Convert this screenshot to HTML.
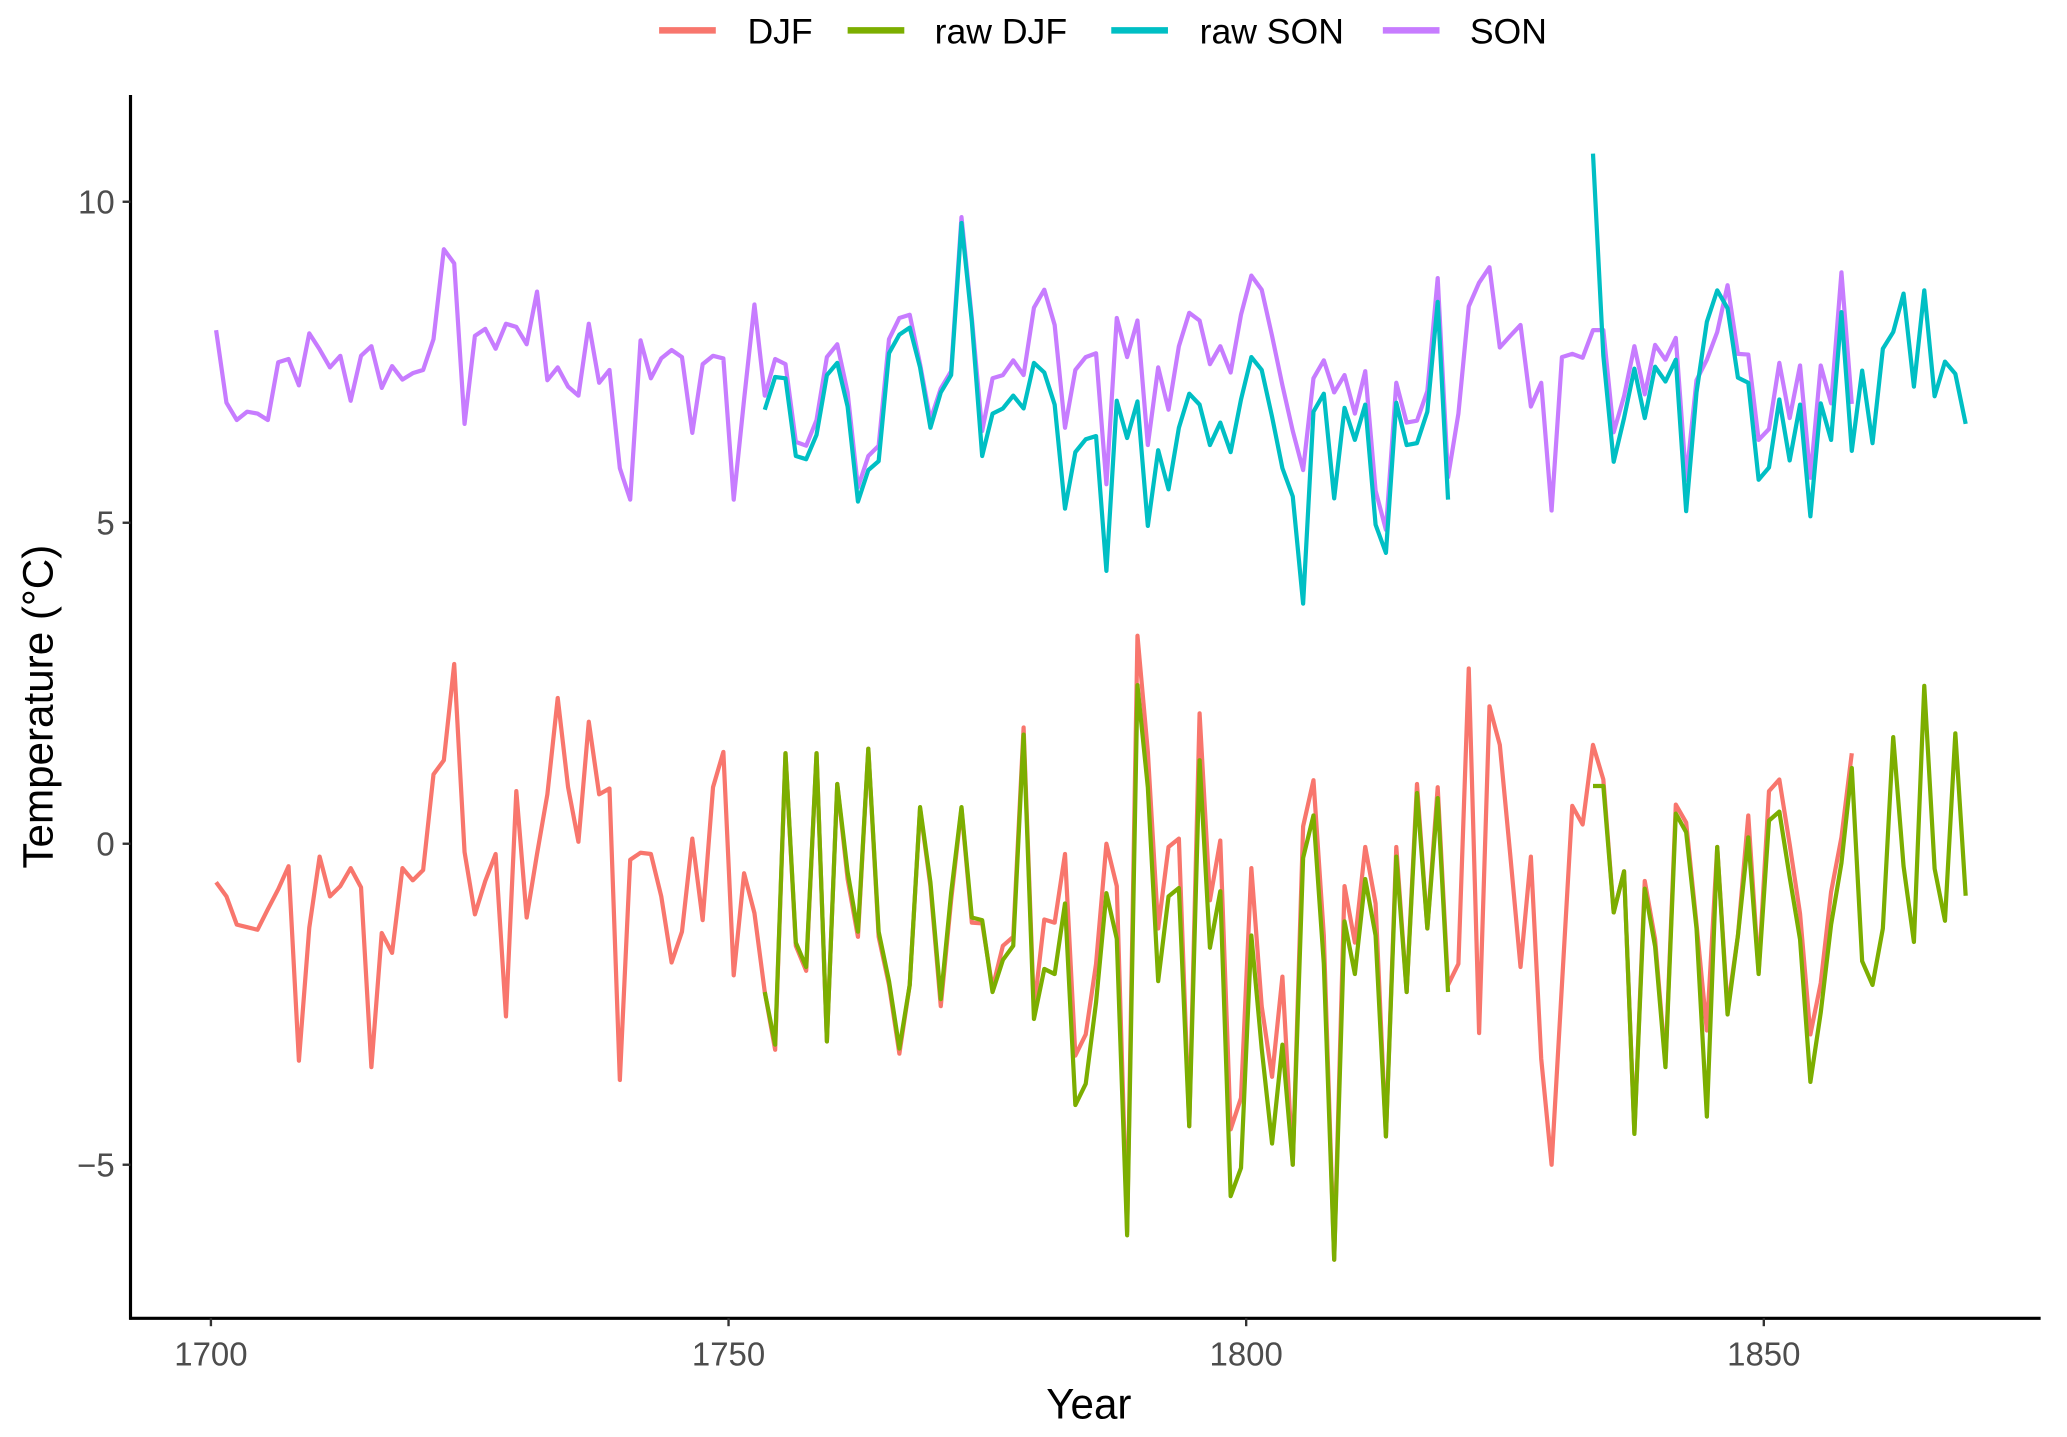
<!DOCTYPE html>
<html><head><meta charset="utf-8"><style>
html,body{margin:0;padding:0;background:#fff;}
svg{display:block;font-family:"Liberation Sans",Arial,sans-serif;}
</style></head><body>
<svg id="chart" width="2067" height="1437" viewBox="0 0 1568 1090" xmlns="http://www.w3.org/2000/svg">
<rect x="0" y="0" width="1568" height="1090" fill="#fff"/>
<g id="legend"></g>
<g id="plot"></g>
<g id="axes"></g>
</svg>
<script>
const xTicks = [1700, 1750, 1800, 1850];
const yTicks = [-5, 0, 5, 10];
const yTickLabels = ["\u22125", "0", "5", "10"];
const seriesNames = ["DJF", "raw DJF", "raw SON", "SON"];
const djfStart = 1701;
const djf = [-0.6,-0.82,-1.26,-1.3,-1.34,-1.02,-0.71,-0.35,-3.38,-1.31,-0.2,-0.82,-0.66,-0.38,-0.68,-3.48,-1.39,-1.7,-0.38,-0.57,-0.41,1.08,1.3,2.8,-0.13,-1.1,-0.58,-0.16,-2.69,0.82,-1.15,-0.16,0.77,2.27,0.88,0.03,1.9,0.77,0.86,-3.68,-0.25,-0.14,-0.16,
-0.82,-1.85,-1.37,0.08,-1.19,0.88,1.43,-2.05,-0.46,-1.08,-2.31,-3.21,1.41,-1.59,-1.98,1.41,-3.08,0.93,-0.55,-1.45,1.48,-1.45,-2.2,-3.27,-2.2,0.55,-0.66,-2.53,-0.88,0.55,-1.23,-1.24,-2.25,-1.59,-1.45,1.81,-2.58,-1.18,-1.23,-0.16,-3.3,-2.97,-1.87,0.0,
-0.66,-6.04,3.24,1.43,-1.32,-0.05,0.08,-4.4,2.03,-0.88,0.05,-4.45,-3.96,-0.38,-2.53,-3.63,-2.07,-5.0,0.27,0.99,-1.43,-6.48,-0.66,-1.54,-0.05,-0.93,-4.56,-0.05,-2.31,0.93,-1.32,0.88,-2.2,-1.87,2.73,-2.95,2.14,1.54,-0.16,-1.92,-0.2,-3.35,-5.0,
-2.2,0.59,0.3,1.54,1.0,-1.07,-0.43,-4.5,-0.58,-1.49,-3.42,0.61,0.33,-1.25,-2.91,-0.05,-2.57,-1.43,0.44,-2.0,0.82,1.0,-0.01,-1.09,-2.97,-2.17,-0.75,0.1,1.41];
const sonStart = 1701;
const son = [8.0,6.87,6.6,6.73,6.7,6.6,7.5,7.55,7.14,7.95,7.7,7.42,7.6,6.9,7.6,7.75,7.1,7.44,7.23,7.33,7.38,7.86,9.26,9.04,6.54,7.91,8.02,7.71,8.1,8.05,7.78,8.6,7.22,7.42,7.12,6.98,8.1,7.18,7.38,5.85,5.36,7.84,7.25,
7.56,7.69,7.58,6.4,7.47,7.6,7.56,5.36,6.92,8.4,6.98,7.55,7.47,6.26,6.2,6.6,7.58,7.78,7.03,5.55,6.04,6.2,7.86,8.19,8.24,7.47,6.6,7.09,7.36,9.76,8.19,6.43,7.25,7.3,7.53,7.3,8.35,8.63,8.08,6.48,7.38,7.58,7.64,5.6,
8.19,7.58,8.15,6.21,7.42,6.76,7.75,8.27,8.15,7.47,7.75,7.34,8.24,8.85,8.63,7.91,7.14,6.43,5.82,7.25,7.53,7.03,7.3,6.7,7.36,5.5,4.89,7.18,6.56,6.59,7.05,8.81,5.71,6.7,8.37,8.74,8.98,7.73,7.91,8.08,6.81,7.18,5.19,7.58,
7.63,7.57,8.0,8.0,6.41,6.97,7.75,7.0,7.77,7.54,7.88,5.67,7.22,7.54,7.97,8.7,7.63,7.62,6.29,6.46,7.49,6.63,7.45,5.7,7.45,6.86,8.9,6.85];
const rawDjfStartA = 1754;
const rawDjfA = [-2.31,-3.13,1.41,-1.54,-1.92,1.41,-3.08,0.93,-0.44,-1.37,1.48,-1.37,-2.14,-3.19,-2.2,0.57,-0.6,-2.42,-0.77,0.57,-1.15,-1.19,-2.31,-1.81,-1.59,1.7,-2.73,-1.95,-2.03,-0.93,-4.07,-3.74,-2.47,-0.77,
-1.48,-6.1,2.47,0.88,-2.14,-0.82,-0.69,-4.4,1.3,-1.62,-0.74,-5.49,-5.05,-1.43,-3.19,-4.67,-3.13,-5.0,-0.22,0.44,-1.87,-6.48,-1.21,-2.03,-0.55,-1.43,-4.56,-0.2,-2.31,0.79,-1.32,0.71,-2.31];
const rawDjfStartB = 1834;
const rawDjfB = [0.9,0.9,-1.07,-0.43,-4.52,-0.7,-1.6,-3.48,0.47,0.18,-1.32,-4.25,-0.05,-2.66,-1.43,0.1,-2.03,0.36,0.5,-0.52,-1.49,-3.71,-2.63,-1.26,-0.3,1.18,-1.83,-2.2,-1.32,1.66,-0.35,-1.53,2.46,-0.39,-1.2,1.72,-0.81];
const rawSonStartA = 1754;
const rawSonA = [6.76,7.27,7.25,6.04,5.99,6.37,7.3,7.49,6.81,5.33,5.82,5.96,7.64,7.93,8.04,7.42,6.48,7.03,7.3,9.67,8.13,6.04,6.7,6.78,6.98,6.78,7.49,7.34,6.84,5.22,6.1,6.3,6.35,4.25,
6.9,6.32,6.89,4.95,6.13,5.52,6.48,7.01,6.84,6.21,6.56,6.1,6.92,7.58,7.38,6.65,5.85,5.41,3.74,6.73,7.01,5.38,6.79,6.29,6.84,4.97,4.53,6.87,6.21,6.24,6.73,8.44,5.36];
const rawSonStartB = 1834;
const rawSonB = [10.75,7.6,5.95,6.63,7.4,6.63,7.43,7.2,7.54,5.18,7.03,8.13,8.62,8.34,7.26,7.18,5.67,5.86,6.92,5.97,6.84,5.1,6.86,6.29,8.28,6.12,7.37,6.24,7.71,7.97,8.57,7.12,8.62,6.97,7.51,7.32,6.54];

const NS = "http://www.w3.org/2000/svg";
const colors = {"DJF":"#F8766D","raw DJF":"#7CAE00","raw SON":"#00BFC4","SON":"#C77CFF"};
const X0 = 160, PXY = 1178/150, Y0 = 640, PXV = 48.7;
function xScale(yr){ return X0 + (yr - 1700 - 0.5) * PXY; }
function xTickPos(yr){ return X0 + (yr - 1700) * PXY; }
function yScale(v){ return Y0 - v * PXV; }
function mk(tag, attrs, parent){ const e=document.createElementNS(NS,tag); for(const k in attrs) e.setAttribute(k,attrs[k]); parent.appendChild(e); return e; }

const plot = document.getElementById('plot');
function drawSeries(start, vals, color, name){
  const d = vals.map((v,i)=>(i?'L':'M')+xScale(start+i).toFixed(2)+','+yScale(v).toFixed(2)).join(' ');
  const p = mk('path',{d:d,fill:'none',stroke:color,'stroke-width':3.2,'stroke-linejoin':'round'},plot);
  
  
}
drawSeries(djfStart, djf, colors["DJF"], 'djf-line');
drawSeries(sonStart, son, colors["SON"], 'son-line');
drawSeries(rawDjfStartA, rawDjfA, colors["raw DJF"], 'raw-djf-line-early');
drawSeries(rawDjfStartB, rawDjfB, colors["raw DJF"], 'raw-djf-line-late');
drawSeries(rawSonStartA, rawSonA, colors["raw SON"], 'raw-son-line-early');
drawSeries(rawSonStartB, rawSonB, colors["raw SON"], 'raw-son-line-late');

const axes = document.getElementById('axes');
const ya = mk('line',{x1:99,y1:72,x2:99,y2:1001,stroke:'#000','stroke-width':2.4},axes);


const xa = mk('line',{x1:98,y1:1000,x2:1548,y2:1000,stroke:'#000','stroke-width':2.4},axes);


yTicks.forEach((t,i)=>{
  const y=yScale(t);
  const tk=mk('line',{x1:93,y1:y,x2:99,y2:y,stroke:'#333','stroke-width':1.8},axes);
  
  
  const tx=mk('text',{x:87,y:y+9,'text-anchor':'end','font-size':25,fill:'#4d4d4d'},axes);
  tx.textContent=yTickLabels[i];
  
  
});
xTicks.forEach(t=>{
  const x=xTickPos(t);
  const tk=mk('line',{x1:x,y1:1000,x2:x,y2:1006,stroke:'#333','stroke-width':1.8},axes);
  
  
  const tx=mk('text',{x:x,y:1036,'text-anchor':'middle','font-size':25,fill:'#4d4d4d'},axes);
  tx.textContent=String(t);
  
  
});
const xt=mk('text',{x:826,y:1076,'text-anchor':'middle','font-size':32,fill:'#000'},axes);
xt.textContent='Year';


const yt=mk('text',{x:0,y:0,'text-anchor':'middle','font-size':32,fill:'#000',transform:'translate(40,536) rotate(-90)'},axes);
yt.textContent='Temperature (\u00B0C)';



const legend = document.getElementById('legend');
const legX = [500, 643, 843, 1049];
const legTX = [567, 709, 910, 1115];
seriesNames.forEach((n,i)=>{
  const g=mk('g',{},legend);
  
  
  mk('line',{x1:legX[i],y1:23,x2:legX[i]+43,y2:23,stroke:colors[n],'stroke-width':5},g);
  const t=mk('text',{x:legTX[i],y:33,'font-size':27,fill:'#000'},g);
  t.textContent=n;
});
</script>
</body></html>
